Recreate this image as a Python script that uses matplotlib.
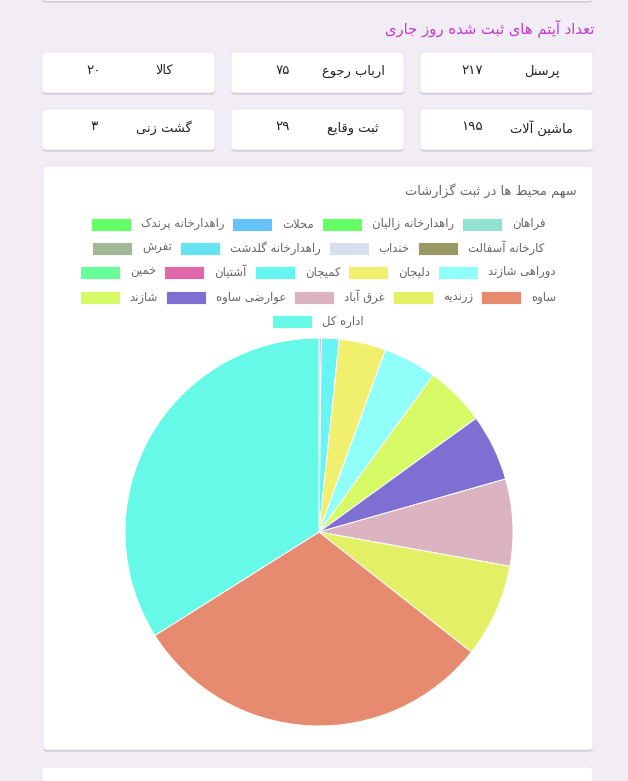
import matplotlib
matplotlib.use("Agg")
import matplotlib.pyplot as plt
from matplotlib.patches import FancyBboxPatch, Rectangle

# ---------------- data ----------------
page_title = "تعداد آیتم های ثبت شده روز جاری"
card_labels = ["پرسنل", "ارباب رجوع", "کالا", "ماشین آلات", "ثبت وقایع", "گشت زنی"]
card_values = [217, 75, 20, 195, 29, 3]

chart_title = "سهم محیط ها در ثبت گزارشات"
categories = ["فراهان", "راهدارخانه زالیان", "محلات", "راهدارخانه پرندک",
              "کارخانه آسفالت", "خنداب", "راهدارخانه گلدشت", "تفرش",
              "دوراهی شازند", "دلیجان", "کمیجان", "آشتیان", "خمین",
              "ساوه", "زرندیه", "غرق آباد", "عوارضی ساوه", "شازند",
              "اداره کل"]
values = [0, 0, 0, 0,
          0, 0, 0, 0,
          24, 21, 8, 1, 0,
          164, 42, 39, 30, 27,
          183]
colors = ["#8FE3CF", "#66FF66", "#66C2FF", "#66FF66",
          "#999966", "#D5DFF0", "#66E3F0", "#A0B898",
          "#91FFF9", "#F1F06E", "#66F5F2", "#E066AA", "#66FF99",
          "#E68A70", "#E3F066", "#DCB3C1", "#7F6FD2", "#D6FA66",
          "#66F9E8"]
legend_rows = [4, 4, 5, 5, 1]  # items per legend line

# ---------------- Persian shaping helpers ----------------
F = {
    '\u0627': ('\uFE8D', '\uFE8E', None, None),
    '\u0622': ('\uFE81', '\uFE82', None, None),
    '\u0628': ('\uFE8F', '\uFE90', '\uFE91', '\uFE92'),
    '\u067E': ('\uFB56', '\uFB57', '\uFB58', '\uFB59'),
    '\u062A': ('\uFE95', '\uFE96', '\uFE97', '\uFE98'),
    '\u062B': ('\uFE99', '\uFE9A', '\uFE9B', '\uFE9C'),
    '\u062C': ('\uFE9D', '\uFE9E', '\uFE9F', '\uFEA0'),
    '\u0686': ('\uFB7A', '\uFB7B', '\uFB7C', '\uFB7D'),
    '\u062D': ('\uFEA1', '\uFEA2', '\uFEA3', '\uFEA4'),
    '\u062E': ('\uFEA5', '\uFEA6', '\uFEA7', '\uFEA8'),
    '\u062F': ('\uFEA9', '\uFEAA', None, None),
    '\u0630': ('\uFEAB', '\uFEAC', None, None),
    '\u0631': ('\uFEAD', '\uFEAE', None, None),
    '\u0632': ('\uFEAF', '\uFEB0', None, None),
    '\u0698': ('\uFB8A', '\uFB8B', None, None),
    '\u0633': ('\uFEB1', '\uFEB2', '\uFEB3', '\uFEB4'),
    '\u0634': ('\uFEB5', '\uFEB6', '\uFEB7', '\uFEB8'),
    '\u0635': ('\uFEB9', '\uFEBA', '\uFEBB', '\uFEBC'),
    '\u0636': ('\uFEBD', '\uFEBE', '\uFEBF', '\uFEC0'),
    '\u0637': ('\uFEC1', '\uFEC2', '\uFEC3', '\uFEC4'),
    '\u0638': ('\uFEC5', '\uFEC6', '\uFEC7', '\uFEC8'),
    '\u0639': ('\uFEC9', '\uFECA', '\uFECB', '\uFECC'),
    '\u063A': ('\uFECD', '\uFECE', '\uFECF', '\uFED0'),
    '\u0641': ('\uFED1', '\uFED2', '\uFED3', '\uFED4'),
    '\u0642': ('\uFED5', '\uFED6', '\uFED7', '\uFED8'),
    '\u06A9': ('\uFB8E', '\uFB8F', '\uFB90', '\uFB91'),
    '\u0643': ('\uFED9', '\uFEDA', '\uFEDB', '\uFEDC'),
    '\u06AF': ('\uFB92', '\uFB93', '\uFB94', '\uFB95'),
    '\u0644': ('\uFEDD', '\uFEDE', '\uFEDF', '\uFEE0'),
    '\u0645': ('\uFEE1', '\uFEE2', '\uFEE3', '\uFEE4'),
    '\u0646': ('\uFEE5', '\uFEE6', '\uFEE7', '\uFEE8'),
    '\u0648': ('\uFEED', '\uFEEE', None, None),
    '\u0647': ('\uFEE9', '\uFEEA', '\uFEEB', '\uFEEC'),
    '\u06CC': ('\uFBFC', '\uFBFD', '\uFBFE', '\uFBFF'),
    '\u064A': ('\uFEF1', '\uFEF2', '\uFEF3', '\uFEF4'),
}
LAMALEF = {'\u0627': ('\uFEFB', '\uFEFC'), '\u0622': ('\uFEF5', '\uFEF6')}


def dual(c):
    return c in F and F[c][2] is not None


def shape(s):
    out = []
    i, n = 0, len(s)
    while i < n:
        c = s[i]
        if c not in F:
            out.append(c)
            i += 1
            continue
        prev = s[i - 1] if i > 0 else ''
        pj = dual(prev)
        if c == '\u0644' and i + 1 < n and s[i + 1] in LAMALEF:
            iso, fin = LAMALEF[s[i + 1]]
            out.append(fin if pj else iso)
            i += 2
            continue
        nxt = s[i + 1] if i + 1 < n else ''
        nj = dual(c) and nxt in F
        iso, fin, ini, med = F[c]
        if pj and nj:
            out.append(med)
        elif pj:
            out.append(fin)
        elif nj:
            out.append(ini)
        else:
            out.append(iso)
        i += 1
    return ''.join(reversed(out))


def fa_digits(v):
    return str(v).translate(str.maketrans("0123456789", "۰۱۲۳۴۵۶۷۸۹"))


# ---------------- figure ----------------
W, H = 628, 781
plt.rcParams['font.family'] = ['DejaVu Sans']
fig = plt.figure(figsize=(W / 100, H / 100), dpi=100)
fig.patch.set_facecolor("#F2ECF4")
bg = fig.add_axes([0, 0, 1, 1])
bg.set_xlim(0, W)
bg.set_ylim(H, 0)
bg.axis("off")


def card(x0, y0, x1, y1):
    sh = FancyBboxPatch((x0, y0 + 1.5), x1 - x0, y1 - y0,
                        boxstyle="round,pad=0,rounding_size=4",
                        fc="#C4BCC8", ec="none", alpha=0.85, zorder=1)
    bg.add_patch(sh)
    p = FancyBboxPatch((x0, y0), x1 - x0, y1 - y0,
                       boxstyle="round,pad=0,rounding_size=4",
                       fc="white", ec="#E6E0E8", lw=0.5, zorder=2)
    bg.add_patch(p)


# partial cards at top and bottom
card(42, -20, 593, 1)
card(42, 767, 593, 800)

# page title
bg.text(594, 28, shape(page_title), ha="right", va="center",
        fontsize=10.6, color="#C03ACB", zorder=3)

# stat cards (RTL: first card on the right)
col_left = [420, 231, 42]
row_top = [52, 109]
for k, (lab, val) in enumerate(zip(card_labels, card_values)):
    r, c = divmod(k, 3)
    x0 = col_left[c]
    y0 = row_top[r]
    card(x0, y0, x0 + 173, y0 + 41)
    bg.text(x0 + 122, y0 + 19, shape(lab), ha="center", va="center",
            fontsize=9.4, color="#222222", zorder=3)
    bg.text(x0 + 52, y0 + 18, fa_digits(val), ha="center", va="center",
            fontsize=9.6, color="#222222", zorder=3)

# chart card
card(43, 166, 593, 750)
bg.text(577, 191, shape(chart_title), ha="right", va="center",
        fontsize=9.4, color="#666666", zorder=3)

# legend (manual, right-to-left, centred rows)
renderer = fig.canvas.get_renderer()
texts = []
widths = []
for name in categories:
    t = bg.text(0, 0, shape(name), ha="left", va="center",
                fontsize=8.4, color="#666666", zorder=3)
    texts.append(t)
    bb = t.get_window_extent(renderer)
    widths.append(bb.width)

box_w, box_h, gap_bt, gap_items = 40, 13, 10, 8
row_y = [224, 248, 272, 297, 321]
center_x = 318
idx = 0
for r, cnt in enumerate(legend_rows):
    items = list(range(idx, idx + cnt))
    idx += cnt
    total = sum(box_w + gap_bt + widths[i] for i in items) + gap_items * (cnt - 1)
    x_right = center_x + total / 2
    y = row_y[r]
    for i in items:
        tx = x_right - widths[i]
        texts[i].set_position((tx, y))
        bx = tx - gap_bt - box_w
        bg.add_patch(Rectangle((bx, y - box_h / 2), box_w, box_h,
                               fc=colors[i], ec="white", lw=0.6, zorder=3))
        x_right = bx - gap_items

# pie (slices drawn clockwise from top, smallest first)
cx, cy, rad = 319, 532, 194
pax = fig.add_axes([(cx - rad) / W, (H - cy - rad) / H, 2 * rad / W, 2 * rad / H])
order = sorted([i for i, v in enumerate(values) if v > 0], key=lambda i: values[i])
pax.pie([values[i] for i in order], colors=[colors[i] for i in order],
        startangle=90, counterclock=False,
        wedgeprops=dict(edgecolor="white", linewidth=0.7))
pax.set_xlim(-1.0, 1.0)
pax.set_ylim(-1.0, 1.0)
pax.set_aspect("equal")
pax.axis("off")

fig.savefig("out.png", dpi=100, facecolor=fig.get_facecolor())
